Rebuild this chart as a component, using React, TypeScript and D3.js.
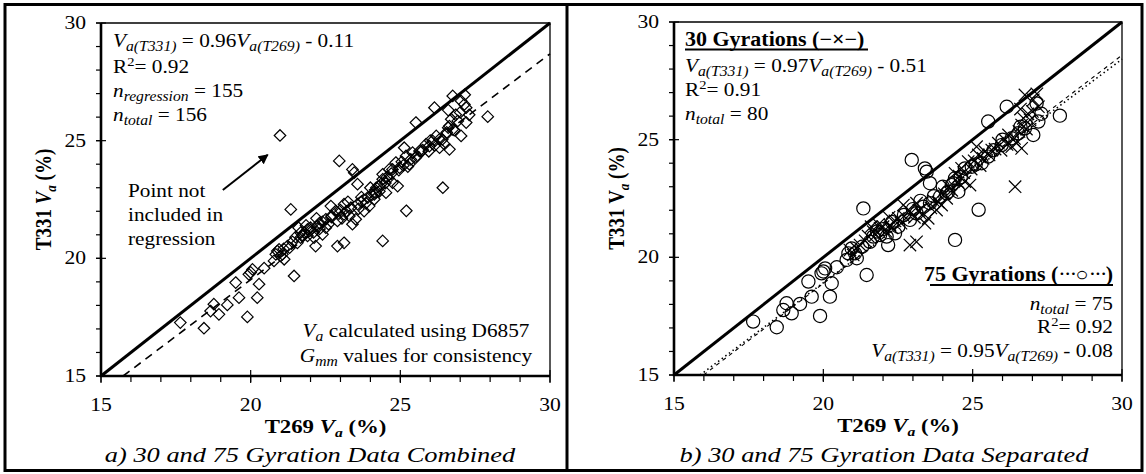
import React from "react";
import * as d3 from "d3";

const FONT = '"Liberation Serif", "Times New Roman", serif';
const SX = 1.2; // horizontal stretch for axis lettering and captions
const NOTE_SX = 1.12; // horizontal stretch for in-plot notes
const NOTE_SIZE = 19;
const SUB_SIZE = 14;

const AXIS_DOMAIN = [15, 30];
const MAJOR_TICKS = [15, 20, 25, 30];
const MINOR_TICKS = d3.range(15, 31, 1);

// 30-gyration specimens (T269 Va %, T331 Va %)
const gyr30T269 = [
  20.89, 21.23, 21.67, 21.9, 22.23, 22.51, 22.84, 22.9, 23.12, 23.4,
  23.51, 23.79, 23.96, 24.13, 23.12, 22.68, 26.42, 26.75, 27.03, 27.2,
  26.7, 26.92, 26.64, 26.47, 26.31, 26.64, 26.08, 25.86, 25.64, 25.41,
  25.19, 25.13, 24.85, 24.63, 24.41, 24.74, 24.91, 27.15, 21.0, 21.1,
  21.4, 21.5, 21.75, 21.85, 22.0, 22.1, 22.3, 22.4, 22.6, 22.7,
  22.95, 23.05, 23.2, 23.3, 23.6, 23.7, 23.85, 24.05, 24.2, 24.3,
  24.5, 24.55, 24.7, 24.95, 25.05, 25.25, 25.35, 25.55, 25.75, 25.95,
  26.15, 26.2, 26.4, 26.55, 26.8, 26.85, 26.6, 27.0, 22.2, 21.6,
];
const gyr30T331 = [
  20.31, 20.52, 21.09, 21.23, 21.37, 21.66, 22.01, 20.52, 20.66, 21.45,
  21.66, 22.01, 22.22, 22.51, 22.3, 22.22, 23.0, 26.9, 26.69, 26.4,
  25.91, 25.84, 25.62, 24.85, 24.7, 24.63, 24.99, 24.85, 24.56, 24.49,
  24.35, 24.7, 24.07, 23.78, 23.57, 23.22, 23.07, 26.95, 20.1, 20.4,
  20.7, 20.9, 20.95, 21.4, 21.3, 21.1, 21.25, 21.55, 21.45, 21.75,
  21.9, 21.7, 22.0, 21.8, 22.1, 22.4, 22.35, 22.7, 23.0, 22.85,
  23.2, 23.45, 23.6, 23.75, 24.1, 23.9, 24.2, 24.35, 24.6, 24.55,
  24.8, 25.2, 25.05, 25.35, 25.45, 26.1, 26.3, 26.2, 21.7, 21.3,
];

// 75-gyration specimens (T269 Va %, T331 Va %)
const gyr75T269 = [
  17.65, 18.44, 18.66, 18.77, 18.94, 19.22, 19.5, 19.61, 19.89, 19.94,
  20.06, 20.28, 20.22, 20.45, 20.0, 20.84, 20.78, 21.06, 21.12, 20.95,
  21.34, 21.45, 21.56, 21.67, 21.9, 22.12, 22.17, 22.4, 22.51, 22.9,
  23.12, 23.35, 23.57, 23.91, 24.13, 24.35, 23.46, 22.96, 23.4, 23.57,
  24.41, 25.2, 26.14, 25.52, 27.92, 27.03, 27.2, 26.75, 25.97, 25.52,
  25.3, 24.97, 24.74, 24.41, 24.3, 24.52, 24.18, 26.53, 26.31, 27.14,
  21.3, 21.8, 22.0, 22.3, 22.7, 23.0, 23.25, 23.7, 24.0, 24.6,
  25.1, 25.7, 26.0, 26.6, 27.3,
];
const gyr75T331 = [
  17.27, 17.03, 17.76, 18.05, 17.62, 18.02, 18.97, 18.33, 17.51, 19.32,
  19.53, 18.9, 18.33, 19.58, 19.4, 20.17, 19.89, 20.17, 19.96, 20.38,
  22.08, 19.25, 20.66, 20.88, 20.95, 20.88, 20.52, 21.02, 21.3, 21.59,
  21.87, 22.15, 22.3, 22.58, 22.72, 23.15, 23.64, 24.14, 23.78, 23.15,
  20.74, 22.02, 26.4, 25.77, 26.02, 25.2, 25.77, 25.48, 24.77, 24.28,
  24.0, 23.85, 23.78, 23.36, 23.07, 22.79, 22.79, 25.27, 25.06, 26.54,
  20.45, 21.1, 21.2, 21.5, 21.8, 22.05, 22.4, 22.6, 23.0, 23.4,
  23.95, 24.55, 25.0, 25.55, 26.1,
];

// Specimen left out of the combined regression
const excludedT269 = [20.98];
const excludedT331 = [25.22];

const combinedFit = { slope: 0.96, intercept: -0.11, r2: "0.92" };
const fit30 = { slope: 0.97, intercept: -0.51, r2: "0.91" };
const fit75 = { slope: 0.95, intercept: -0.08, r2: "0.92" };

type Pt = { x: number; y: number };
const zip = (xs: number[], ys: number[]): Pt[] => xs.map((x, i) => ({ x, y: ys[i] }));

const pts30 = zip(gyr30T269, gyr30T331);
const pts75 = zip(gyr75T269, gyr75T331);
const ptsExcluded = zip(excludedT269, excludedT331);
const ptsCombined = [...pts30, ...pts75, ...ptsExcluded];

type TProps = {
  x: number;
  y: number;
  anchor?: "start" | "middle" | "end";
  size?: number;
  sx?: number;
  bold?: boolean;
  italic?: boolean;
  rotate?: number;
  children: React.ReactNode;
};

function T({ x, y, anchor = "start", size = 20, sx = SX, bold, italic, rotate, children }: TProps) {
  const tr = `translate(${x},${y}) scale(${sx},1)` + (rotate ? ` rotate(${rotate})` : "");
  return (
    <text
      transform={tr}
      textAnchor={anchor}
      fontSize={size}
      fontWeight={bold ? "bold" : "normal"}
      fontStyle={italic ? "italic" : "normal"}
      fontFamily={FONT}
      fill="#000"
    >
      {children}
    </text>
  );
}

// in-plot note text
function N(props: TProps) {
  return <T size={NOTE_SIZE} sx={NOTE_SX} {...props} />;
}

function Equation({ fit }: { fit: { slope: number; intercept: number } }) {
  const sign = fit.intercept < 0 ? "-" : "+";
  return (
    <>
      <tspan fontStyle="italic">V</tspan>
      <tspan fontStyle="italic" fontSize={SUB_SIZE} dy={4}>a(T331)</tspan>
      <tspan dy={-4}> = {fit.slope.toFixed(2)}</tspan>
      <tspan fontStyle="italic">V</tspan>
      <tspan fontStyle="italic" fontSize={SUB_SIZE} dy={4}>a(T269)</tspan>
      <tspan dy={-4}> {sign} {Math.abs(fit.intercept).toFixed(2)}</tspan>
    </>
  );
}

function RSq({ value }: { value: string }) {
  return (
    <>
      R<tspan fontSize={13} dy={-7}>2</tspan>
      <tspan dy={7}>= {value}</tspan>
    </>
  );
}

function NCount({ sub, value }: { sub: string; value: number }) {
  return (
    <>
      <tspan fontStyle="italic">n</tspan>
      <tspan fontStyle="italic" fontSize={SUB_SIZE} dy={4}>{sub}</tspan>
      <tspan dy={-4}> = {value}</tspan>
    </>
  );
}

type Frame = { left: number; right: number; top: number; bottom: number };

function Axes({ f, xs, ys, italicYV }: { f: Frame; xs: d3.ScaleLinear<number, number>; ys: d3.ScaleLinear<number, number>; italicYV: boolean }) {
  const cx = (f.left + f.right) / 2;
  const cy = (f.top + f.bottom) / 2;
  return (
    <g>
      {/* thin top/right frame */}
      <path d={`M${f.left},${f.top}H${f.right}V${f.bottom}`} fill="none" stroke="#000" strokeWidth={1.3} />
      {/* minor ticks */}
      {MINOR_TICKS.map((t) => (
        <g key={"m" + t}>
          <line x1={xs(t)} x2={xs(t)} y1={f.bottom} y2={f.bottom + 6} stroke="#000" strokeWidth={1.2} />
          <line x1={f.left - 5} x2={f.left} y1={ys(t)} y2={ys(t)} stroke="#000" strokeWidth={1.2} />
        </g>
      ))}
      {/* major ticks cross the axes */}
      {MAJOR_TICKS.map((t) => (
        <g key={"M" + t}>
          <line x1={xs(t)} x2={xs(t)} y1={f.bottom - 6} y2={f.bottom + 7} stroke="#000" strokeWidth={1.2} />
          <line x1={f.left - 5} x2={f.left + 5} y1={ys(t)} y2={ys(t)} stroke="#000" strokeWidth={1.2} />
          <T x={xs(t)} y={f.bottom + 35} anchor="middle" size={18}>{t}</T>
          <T x={f.left - 15} y={ys(t) + 6} anchor="end" size={18}>{t}</T>
        </g>
      ))}
      {/* thick left/bottom axis lines */}
      <path d={`M${f.left},${f.top}V${f.bottom}H${f.right}`} fill="none" stroke="#000" strokeWidth={2.6} />
      <T x={cx} y={f.bottom + 57} anchor="middle" size={19} bold>
        T269 <tspan fontStyle="italic">V</tspan>
        <tspan fontSize={13} fontStyle="italic" dy={4}>a</tspan>
        <tspan dy={-4}> (%)</tspan>
      </T>
      <T x={f.left - 50} y={cy} anchor="middle" size={19} bold rotate={-90}>
        T331 <tspan fontStyle={italicYV ? "italic" : "normal"}>V</tspan>
        <tspan fontSize={13} fontStyle="italic" dy={4}>a</tspan>
        <tspan dy={-4}> (%)</tspan>
      </T>
    </g>
  );
}

function fitPath(fit: { slope: number; intercept: number }, xs: d3.ScaleLinear<number, number>, ys: d3.ScaleLinear<number, number>) {
  const x0 = Math.max(AXIS_DOMAIN[0], (AXIS_DOMAIN[0] - fit.intercept) / fit.slope);
  const x1 = AXIS_DOMAIN[1];
  const line = d3.line<number>().x((v) => xs(v)).y((v) => ys(fit.slope * v + fit.intercept));
  return line([x0, x1]) || "";
}

function identityPath(xs: d3.ScaleLinear<number, number>, ys: d3.ScaleLinear<number, number>) {
  const line = d3.line<number>().x((v) => xs(v)).y((v) => ys(v));
  return line(AXIS_DOMAIN) || "";
}

const diamond = d3.symbol().type(d3.symbolDiamond2).size(85)() || "";
const MARK = { stroke: "#000", strokeWidth: 1.2, fill: "none" };

function LeftPanel() {
  const f: Frame = { left: 101, right: 550, top: 23, bottom: 376 };
  const xs = d3.scaleLinear().domain(AXIS_DOMAIN).range([f.left, f.right]);
  const ys = d3.scaleLinear().domain(AXIS_DOMAIN).range([f.bottom, f.top]);
  return (
    <g>
      <g>
        {ptsCombined.map((p, i) => (
          <path key={i} d={diamond} transform={`translate(${xs(p.x)},${ys(p.y)})`} {...MARK} />
        ))}
      </g>
      <path d={identityPath(xs, ys)} stroke="#000" strokeWidth={3} fill="none" />
      <path d={fitPath(combinedFit, xs, ys)} stroke="#000" strokeWidth={1.6} strokeDasharray="8,6" fill="none" />
      <Axes f={f} xs={xs} ys={ys} italicYV />
      <N x={113} y={47}><Equation fit={combinedFit} /></N>
      <N x={113} y={73}><RSq value={combinedFit.r2} /></N>
      <N x={113} y={97}><NCount sub="regression" value={155} /></N>
      <N x={113} y={121}><NCount sub="total" value={156} /></N>
      <N x={128} y={197}>Point not</N>
      <N x={128} y={221}>included in</N>
      <N x={128} y={245}>regression</N>
      <defs>
        <marker id="arrowHead" viewBox="0 0 10 10" refX="9" refY="5" markerWidth="5" markerHeight="5" orient="auto">
          <path d="M0,0L10,5L0,10z" fill="#000" />
        </marker>
      </defs>
      <line
        x1={xs(19.07)} y1={ys(22.9)} x2={xs(20.57)} y2={ys(24.4)}
        stroke="#000" strokeWidth={2} markerEnd="url(#arrowHead)"
      />
      <N x={416} y={337} anchor="middle">
        <tspan fontStyle="italic">V</tspan>
        <tspan fontStyle="italic" fontSize={SUB_SIZE} dy={4}>a</tspan>
        <tspan dy={-4}> calculated using D6857</tspan>
      </N>
      <N x={416} y={362} anchor="middle">
        <tspan fontStyle="italic">G</tspan>
        <tspan fontStyle="italic" fontSize={SUB_SIZE} dy={4}>mm</tspan>
        <tspan dy={-4}> values for consistency</tspan>
      </N>
      <T x={310} y={462} anchor="middle" size={22} italic>a) 30 and 75 Gyration Data Combined</T>
    </g>
  );
}

function RightPanel() {
  const f: Frame = { left: 674, right: 1122, top: 22, bottom: 375 };
  const xs = d3.scaleLinear().domain(AXIS_DOMAIN).range([f.left, f.right]);
  const ys = d3.scaleLinear().domain(AXIS_DOMAIN).range([f.bottom, f.top]);
  const c = 6.2;
  return (
    <g>
      <g>
        {pts75.map((p, i) => (
          <circle key={"o" + i} cx={xs(p.x)} cy={ys(p.y)} r={6.6} {...MARK} />
        ))}
        {pts30.map((p, i) => (
          <path
            key={"x" + i}
            d={`M${-c},${-c}L${c},${c}M${-c},${c}L${c},${-c}`}
            transform={`translate(${xs(p.x)},${ys(p.y)})`}
            {...MARK}
          />
        ))}
      </g>
      <path d={identityPath(xs, ys)} stroke="#000" strokeWidth={3} fill="none" />
      <path d={fitPath(fit30, xs, ys)} stroke="#000" strokeWidth={1.1} strokeDasharray="4,4" fill="none" />
      <path d={fitPath(fit75, xs, ys)} stroke="#000" strokeWidth={1.6} strokeDasharray="1.5,3" fill="none" />
      <Axes f={f} xs={xs} ys={ys} italicYV={false} />
      <T x={685} y={46} size={20} sx={1.1} bold>30 Gyrations (−×−)</T>
      <line x1={685} x2={868} y1={49.5} y2={49.5} stroke="#000" strokeWidth={2.2} />
      <N x={685} y={72}><Equation fit={fit30} /></N>
      <N x={685} y={96}><RSq value={fit30.r2} /></N>
      <N x={685} y={120}><NCount sub="total" value={80} /></N>
      <T x={1113} y={281} anchor="end" size={20} sx={1.1} bold>
        75 Gyrations (<tspan letterSpacing={-1.5} fontWeight="normal">···</tspan>
        <tspan fontWeight="normal">○</tspan>
        <tspan letterSpacing={-1.5} fontWeight="normal">···</tspan>)
      </T>
      <line x1={930} x2={1113} y1={285} y2={285} stroke="#000" strokeWidth={2.2} />
      <N x={1113} y={310} anchor="end"><NCount sub="total" value={75} /></N>
      <N x={1113} y={333} anchor="end"><RSq value={fit75.r2} /></N>
      <N x={1113} y={357} anchor="end"><Equation fit={fit75} /></N>
      <T x={884} y={462} anchor="middle" size={22} italic>b) 30 and 75 Gyration Data Separated</T>
    </g>
  );
}

export default function App() {
  return (
    <svg width={1146} height={474} style={{ position: "absolute", left: 0, top: 0, background: "#fff" }}>
      <rect x={0} y={0} width={1146} height={474} fill="#fff" />
      <rect x={5} y={4.5} width={1137} height={466} fill="none" stroke="#000" strokeWidth={3} />
      <line x1={567} x2={567} y1={4.5} y2={470.5} stroke="#000" strokeWidth={3} />
      <LeftPanel />
      <RightPanel />
    </svg>
  );
}
